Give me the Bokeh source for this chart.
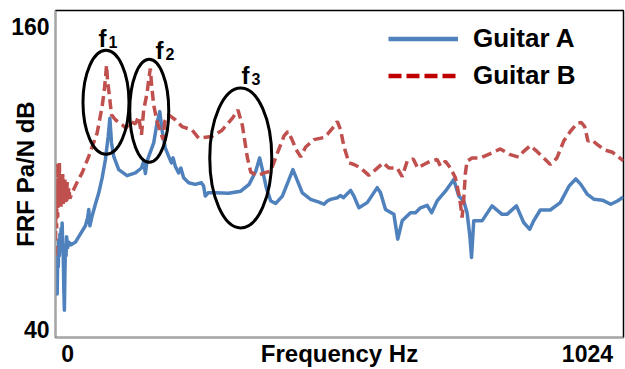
from bokeh.plotting import figure
from bokeh.models import FixedTicker, Legend, LegendItem, Range1d
from bokeh.core.properties import value
from bokeh.embed import file_html
from bokeh.resources import INLINE

FONT = "Liberation Sans"
NAN = float("nan")

# ---- data ----
freq_a = [0, 1, 2, 3, 4, 5, 6, 7, 8, 9, 10, 11, 12, 13, 14, 15, 16, 17, 18, 19, 20, 22, 24, 28, 36,
          45, 54, 58, 60, 62, 66, 72, 78, 84, 90, 95, 98, 101, 105, 114, 129, 144, 155, 159, 162,
          165, 177, 183, 188, 192, 198, 204, 209, 212, 216, 222, 226, 231, 240, 252, 263, 267, 270,
          275, 288, 312, 334, 349, 361, 368, 373, 380, 388, 397, 409, 421, 428, 434, 445, 460, 475,
          484, 490, 496, 508, 514, 519, 532, 538, 547, 562, 580, 586, 595, 610, 617, 625, 640, 649,
          658, 670, 678, 688, 703, 718, 727, 736, 742, 747, 750, 754, 760, 769, 787, 805, 814, 831,
          844, 855, 862, 874, 892, 910, 926, 938, 947, 959, 971, 986, 1001, 1013, 1024]
db_a = [68, 62, 72, 56, 70, 66, 76, 70, 78, 73, 80, 75, 82, 74, 70, 58, 50, 64, 74, 70, 77, 73, 75, 74, 75,
        78, 81, 84, 87, 81, 84.6, 89, 93.1, 98.5, 105.3, 113.8, 120.5, 111.4, 106.5, 101.6, 99.4, 100.4,
        102.2, 104.7, 100.2, 104.7, 111.4, 118.7, 122.9, 116.2, 109.5, 106.5, 104.1, 105.9, 102.8, 100.4,
        102.2, 98.6, 96.8, 96.2, 96.8, 95.6, 91.9, 93.1, 93.1, 92.9, 93.7, 96.2, 101, 105.9, 101.6, 95,
        90.1, 89.2, 91.9, 98, 101.6, 98.6, 93.1, 90.7, 89.7, 88.9, 90.1, 90.7, 91.3, 92.1, 91.3, 94, 91.9,
        87.6, 89.5, 95, 93.1, 87, 85.2, 76.1, 82.8, 85.8, 85.8, 87.6, 88.5, 85.8, 90.1, 93.7, 98, 91.9,
        90.1, 85.8, 77.3, 69.4, 82.8, 82.8, 82.8, 88.3, 85.2, 85.2, 88.3, 82.2, 79.7, 82.8, 86.8, 86.8,
        89.5, 95.6, 98.2, 96.2, 92.5, 90.7, 90.4, 88.9, 90.1, 91.6]

freq_b = [0, 1, 2, 3, 4, 5, 6, 7, 8, 9, 10, 11, 12, 13, 14, 15, 16, 17, 18, 19, 20, 21, 22, 24, 26,
          30, 39, 48, 60, 75, 84, 88, 90, 92, 94, 97, 101, 108, 120, 127, 135, 144, 150, 155, 159, 165,
          168, 171, 173, 177, 183, 189, 194, 197, 204, 216, 228, 246, 258, 282, 300, 319, 329, 337, 346,
          352, 364, 376, 388, 400, 412, 419, 426, 434, 442, 451, 466, 484, 490, 502, 508, 514, 520, 529,
          538, 550, 565, 577, 591, 601, 616, 625, 634, 645, 653, 664, 676, 688, 694, 703, 712, 721, 729,
          733, 736, 739, 742, 751, 766, 784, 802, 820, 835, 844, 856, 868, 883, 892, 904, 916, 928, 941,
          948, 954, 960, 966, 977, 989, 1004, 1013, 1024]
db_b = [70, 98, 80, 104, 84, 102, 88, 104, 90, 100, 88, 99, 90, 100, 89, 97, 90, 98, 89, 96, 90, 97, 90,
        95, 91, 93.1, 97, 100.4, 106.5, 115, 124.7, 130.8, 135.1, 139.9, 133.9, 129, 121.7, 119.9, 118.1,
        116.8, 119.3, 118.4, 121.1, 114.4, 123.5, 129.6, 134.5, 138.7, 133.3, 125.3, 119.3, 115.6, 112.6,
        119.3, 121.7, 119.9, 117.4, 116.2, 113.2, 113.8, 116, 120.5, 123.5, 117.7, 105.9, 100.7, 99.4,
        100.4, 101, 107.7, 114, 115.6, 112.8, 108.9, 106.3, 109.9, 112.6, 113.4, 114.5, 117.4, 119.3,
        116.2, 110.1, 104.1, 103.5, 102.2, 99.5, 101.6, 104.1, 102.2, 102.2, 99, 104.7, 105.5, 102.2,
        103.5, 104.7, 105.3, 102.9, 104.7, 102.2, 98.6, 90.7, 84, 90.7, 100.4, 104.7, 105.9, 105.9,
        107.5, 109.2, 107.1, 106.2, 108.3, 110.4, 108.3, 105.3, 103.5, 105.9, 112, 115.6, 118.7, 118.9,
        117.4, 112, 112.6, 110.8, 108.9, 108, 106.5, 104.8]

series_names = ["Guitar A", "Guitar B"]

# tick labels (placed where the reference shows them)
y_tick_pos = [154, 43]
y_tick_labels = ["160", "40"]
x_tick_pos = [22, 959]
x_tick_labels = ["0", "1024"]

# peak annotations
ell_x = [91, 169, 334]
ell_y = [126.3, 123.2, 105.9]
ell_w = [46, 39, 62]
ell_h = [104, 103, 140]
f_x = [77.5, 180.3, 335.4]
f_y = [149.8, 145.4, 136.3]
f_sub = ["1", "2", "3"]

BLUE = "#4F81BD"
RED = "#C0504D"

p = figure(width=625, height=369, x_range=Range1d(0, 1024), y_range=Range1d(40, 160),
           output_backend="svg", toolbar_location=None,
           min_border_left=55, min_border_right=2, min_border_top=10, min_border_bottom=30)
p.background_fill_color = "white"
p.border_fill_color = "white"
p.outline_line_color = "black"
p.outline_line_width = 1.5
p.xgrid.visible = False
p.ygrid.visible = False

for ax in (p.xaxis[0], p.yaxis[0]):
    ax.axis_line_color = "#A6A6A6"
    ax.axis_line_width = 1.5
    ax.major_tick_out = 0
    ax.major_tick_in = 0
    ax.minor_tick_out = 0
    ax.minor_tick_in = 0
    ax.major_label_text_font = FONT
    ax.major_label_text_font_style = "bold"
    ax.major_label_text_font_size = "23px"
    ax.major_label_text_color = "black"
    ax.axis_label_text_font = FONT
    ax.axis_label_text_font_style = "bold"
    ax.axis_label_text_font_size = "24px"
    ax.axis_label_text_color = "black"

p.yaxis.ticker = FixedTicker(ticks=y_tick_pos)
p.yaxis.major_label_overrides = dict(zip(y_tick_pos, y_tick_labels))
p.yaxis.major_label_standoff = 6
p.yaxis.axis_label = "FRF Pa/N dB"
p.yaxis.axis_label_standoff = -31

p.xaxis.ticker = FixedTicker(ticks=x_tick_pos)
p.xaxis.major_label_overrides = dict(zip(x_tick_pos, x_tick_labels))
p.xaxis.major_label_standoff = 7
p.xaxis.axis_label = "Frequency Hz"
p.xaxis.axis_label_standoff = -25

p.line(freq_a, db_a, line_color=BLUE, line_width=3.5, line_join="round")
p.line(freq_b, db_b, line_color=RED, line_width=3.5, line_dash="10 5")

p.ellipse(x=ell_x, y=ell_y, width=ell_w, height=ell_h, width_units="screen", height_units="screen",
          fill_color=None, line_color="black", line_width=3)

p.text(x=f_x, y=f_y, text=["f"] * 3, text_font=value(FONT), text_font_style="bold",
       text_font_size="24px", text_align="left", text_baseline="alphabetic", text_color="black")
p.text(x=f_x, y=f_y, text=f_sub, x_offset=10, y_offset=4, text_font=value(FONT), text_font_style="bold",
       text_font_size="16px", text_align="left", text_baseline="alphabetic", text_color="black")

pa = p.line([NAN], [NAN], line_color=BLUE, line_width=4.5)
pb = p.line([NAN], [NAN], line_color="#C00000", line_width=4.5, line_dash="13 5")
legend = Legend(items=[LegendItem(label=series_names[0], renderers=[pa], index=0),
                       LegendItem(label=series_names[1], renderers=[pb], index=0)],
                location=(333, 243), glyph_width=70, glyph_height=37, label_height=37,
                spacing=0, padding=0, margin=0, label_standoff=15,
                border_line_color=None, background_fill_alpha=0,
                label_text_font=FONT, label_text_font_style="bold", label_text_font_size="26px",
                label_text_color="black")
p.add_layout(legend)

open("out.html", "w").write(file_html(p, INLINE))
